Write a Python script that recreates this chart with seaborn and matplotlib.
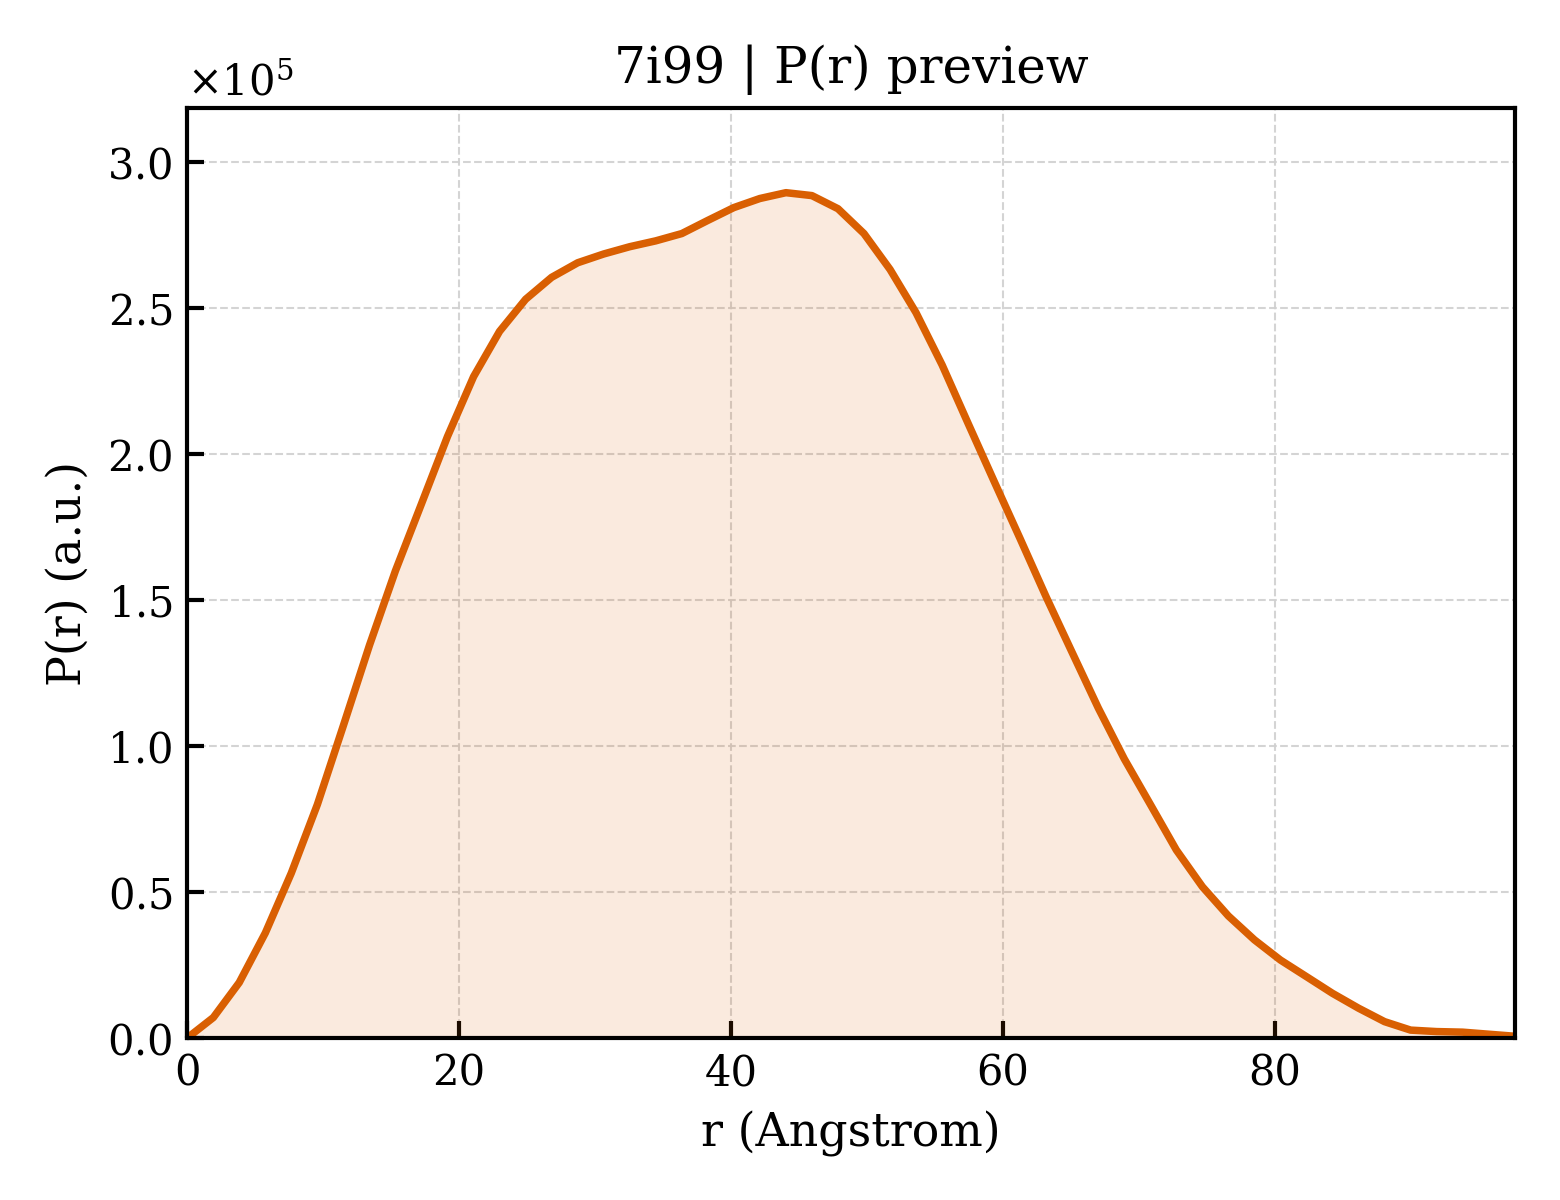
import pandas as pd
import seaborn as sns
import matplotlib.pyplot as plt

r_vals = [0.00, 1.92, 3.83, 5.75, 7.66, 9.58, 11.49, 13.41, 15.32, 17.24,
          19.15, 21.07, 22.98, 24.90, 26.81, 28.73, 30.64, 32.56, 34.47, 36.39,
          38.30, 40.22, 42.13, 44.05, 45.96, 47.88, 49.79, 51.71, 53.62, 55.54,
          57.45, 59.37, 61.28, 63.20, 65.11, 67.03, 68.94, 70.86, 72.77, 74.69,
          76.60, 78.52, 80.43, 82.35, 84.26, 86.18, 88.09, 90.01, 91.92, 93.84,
          95.75, 97.67]
pr_vals = [0.000e5, 0.070e5, 0.190e5, 0.360e5, 0.565e5, 0.800e5, 1.070e5, 1.345e5,
           1.600e5, 1.830e5, 2.060e5, 2.265e5, 2.420e5, 2.530e5, 2.605e5, 2.655e5,
           2.685e5, 2.710e5, 2.730e5, 2.755e5, 2.800e5, 2.844e5, 2.875e5, 2.895e5,
           2.885e5, 2.840e5, 2.755e5, 2.632e5, 2.484e5, 2.305e5, 2.105e5, 1.906e5,
           1.710e5, 1.510e5, 1.320e5, 1.130e5, 0.956e5, 0.800e5, 0.644e5, 0.518e5,
           0.418e5, 0.336e5, 0.267e5, 0.210e5, 0.153e5, 0.102e5, 0.056e5, 0.027e5,
           0.022e5, 0.020e5, 0.013e5, 0.006e5]

pr = pd.DataFrame({"r": r_vals, "P": pr_vals})
line_color = "#d95f02"

sns.set_theme(style="ticks")
plt.rcParams["font.family"] = ["DejaVu Serif"]
plt.rcParams["mathtext.fontset"] = "dejavuserif"
plt.rcParams["text.color"] = "black"
plt.rcParams["axes.labelcolor"] = "black"

fig, ax = plt.subplots(figsize=(5.2, 4), dpi=300)
fig.subplots_adjust(left=0.12, right=0.971, bottom=0.135, top=0.91)

ax.fill_between(pr["r"], pr["P"], color=line_color, alpha=0.13, linewidth=0)
sns.lineplot(data=pr, x="r", y="P", ax=ax, color=line_color, linewidth=1.8)

ax.set_xlim(0, pr["r"].max())
ax.set_ylim(0, 3.185e5)
ax.set_xticks([0, 20, 40, 60, 80])
ax.set_yticks([0, 0.5e5, 1.0e5, 1.5e5, 2.0e5, 2.5e5, 3.0e5])
ax.ticklabel_format(axis="y", style="sci", scilimits=(0, 0), useMathText=True)
ax.yaxis.get_offset_text().set_fontsize(10)

ax.grid(True, linestyle="--", linewidth=0.5, color="#d0d0d0", alpha=0.9)
ax.tick_params(direction="in", length=4, width=1.0, labelsize=10, colors="black")
for s in ax.spines.values():
    s.set_linewidth(1.0)
    s.set_color("black")

ax.set_title("7i99 | P(r) preview", fontsize=12, color="black")
ax.set_xlabel("r (Angstrom)", fontsize=11)
ax.set_ylabel("P(r) (a.u.)", fontsize=11)

fig.savefig("out.png", dpi=300)
